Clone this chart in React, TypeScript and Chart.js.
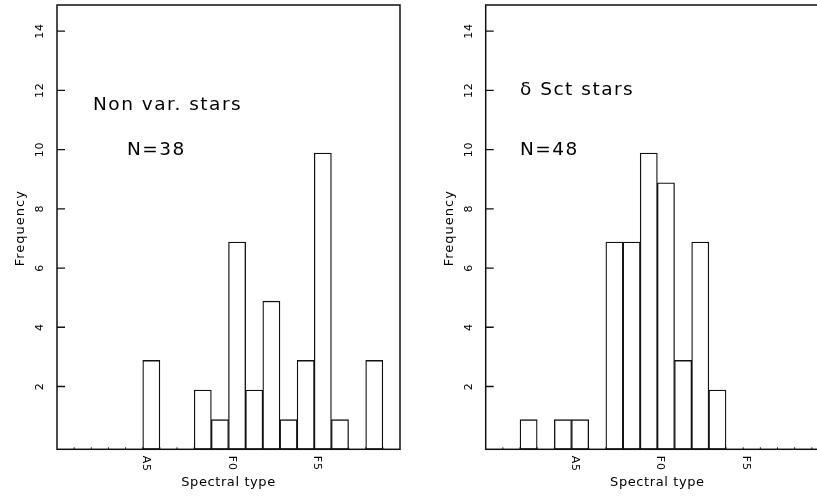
import React, { useEffect, useRef } from 'react';
import { Chart, registerables } from 'chart.js';

Chart.register(...registerables);

// ---- data ----
const SUBTYPES = ['A0', 'A1', 'A2', 'A3', 'A4', 'A5', 'A6', 'A7', 'A8', 'A9', 'F0', 'F1', 'F2', 'F3', 'F4', 'F5', 'F6', 'F7', 'F8', 'F9'];
const NON_VAR_COUNTS = [0, 0, 0, 0, 0, 3, 0, 0, 2, 1, 7, 2, 5, 1, 3, 10, 1, 0, 3, 0];
const DSCT_COUNTS = [0, 0, 1, 0, 1, 1, 0, 7, 7, 10, 9, 3, 7, 2, 0, 0, 0, 0, 0, 0];
const X_TICK_LABELS = ['A5', 'F0', 'F5'];
const Y_TICK_VALUES = [2, 4, 6, 8, 10, 12, 14];
const Y_MAX = 15;
const NON_VAR_TITLE = 'Non var. stars';
const DSCT_TITLE = 'δ Sct stars';
const X_TITLE = 'Spectral type';
const Y_TITLE = 'Frequency';

// ---- style ----
const INK = '#111111';
const TEXT = '#000000';
const FONT = '"DejaVu Sans", "Liberation Sans", sans-serif';
const TICK_OFFSET = 0.12;

type PanelProps = {
  counts: number[];
  title: string;
  left: number;
  width: number;
  padLeft: number;
  padRight: number;
  titlePos: [number, number];
  nPos: [number, number];
};

function drawText(ctx: CanvasRenderingContext2D, text: string, x: number, y: number, rot: number, size: number, spacing: number, align: CanvasTextAlign) {
  ctx.save();
  ctx.translate(x, y);
  ctx.rotate(rot);
  ctx.font = `${size}px ${FONT}`;
  (ctx as any).letterSpacing = `${spacing}px`;
  ctx.textAlign = align;
  ctx.textBaseline = 'alphabetic';
  ctx.fillStyle = TEXT;
  ctx.fillText(text, 0, 0);
  ctx.restore();
}

function makeDecor(p: PanelProps) {
  return {
    id: 'panelDecor',
    afterDatasetsDraw(chart: any) {
      const { ctx, chartArea: a, scales } = chart;
      const xs = scales.x;
      const ys = scales.y;
      ctx.save();
      ctx.strokeStyle = INK;
      ctx.lineWidth = 1.5;
      ctx.strokeRect(a.left, a.top, a.right - a.left, a.bottom - a.top);
      const bw = xs.getPixelForValue(1) - xs.getPixelForValue(0);
      const edge = (i: number) => xs.getPixelForValue(i) - bw / 2;
      ctx.lineWidth = 1;
      ctx.beginPath();
      for (let i = 1; i < SUBTYPES.length; i++) {
        const x = edge(i);
        ctx.moveTo(x, a.bottom);
        ctx.lineTo(x, a.bottom - 2);
      }
      ctx.stroke();
      ctx.lineWidth = 1.3;
      ctx.beginPath();
      for (const v of Y_TICK_VALUES) {
        const y = ys.getPixelForValue(v + TICK_OFFSET);
        ctx.moveTo(a.left, y);
        ctx.lineTo(a.left + 8, y);
      }
      ctx.stroke();
      ctx.restore();

      // x tick labels (rotated clockwise, baseline at bin edge)
      for (const lab of X_TICK_LABELS) {
        const x = edge(SUBTYPES.indexOf(lab));
        drawText(ctx, lab, x, a.bottom + 6.5, Math.PI / 2, 11, 0.8, 'left');
      }
      // y tick labels (rotated counter-clockwise)
      for (const v of Y_TICK_VALUES) {
        const y = ys.getPixelForValue(v + TICK_OFFSET);
        drawText(ctx, String(v), a.left - 14, y, -Math.PI / 2, 11, 0.6, 'center');
      }
      // axis titles
      drawText(ctx, Y_TITLE, a.left - 33, (a.top + a.bottom) / 2 + 1, -Math.PI / 2, 13, 1, 'center');
      drawText(ctx, X_TITLE, (a.left + a.right) / 2, a.bottom + 37, 0, 13, 0.6, 'center');
      // annotations
      const n = p.counts.reduce((s, c) => s + c, 0);
      drawText(ctx, p.title, a.left + p.titlePos[0], a.top + p.titlePos[1], 0, 18.5, 1.5, 'left');
      drawText(ctx, `N=${n}`, a.left + p.nPos[0], a.top + p.nPos[1], 0, 18.5, 1.5, 'left');
    },
  };
}

function Panel(p: PanelProps) {
  const ref = useRef<HTMLCanvasElement>(null);
  useEffect(() => {
    if (!ref.current) return;
    const chart = new Chart(ref.current, {
      type: 'bar',
      data: {
        labels: SUBTYPES,
        datasets: [
          {
            data: p.counts,
            backgroundColor: '#ffffff',
            borderColor: INK,
            borderWidth: 1.3,
            borderSkipped: false,
            barPercentage: 1,
            categoryPercentage: 1,
          },
        ],
      },
      options: {
        responsive: false,
        animation: false,
        devicePixelRatio: 1,
        layout: { padding: { left: p.padLeft, right: p.padRight, top: 5, bottom: 46.7 } },
        scales: {
          x: { display: false },
          y: { display: false, min: 0, max: Y_MAX },
        },
        plugins: { legend: { display: false }, tooltip: { enabled: false } },
      },
      plugins: [makeDecor(p)],
    });
    return () => chart.destroy();
  }, []);
  return (
    <canvas
      ref={ref}
      width={p.width}
      height={496}
      style={{ position: 'absolute', left: p.left, top: 0, width: p.width, height: 496, display: 'block' }}
    />
  );
}

export default function App() {
  return (
    <div style={{ position: 'fixed', left: 0, top: 0, width: 817, height: 496, overflow: 'hidden', background: '#ffffff' }}>
      <Panel counts={NON_VAR_COUNTS} title={NON_VAR_TITLE} left={0} width={410} padLeft={57} padRight={10} titlePos={[36, 105]} nPos={[70, 150]} />
      <Panel counts={DSCT_COUNTS} title={DSCT_TITLE} left={408} width={432} padLeft={77.7} padRight={11} titlePos={[34.3, 90]} nPos={[34.3, 150]} />
    </div>
  );
}
